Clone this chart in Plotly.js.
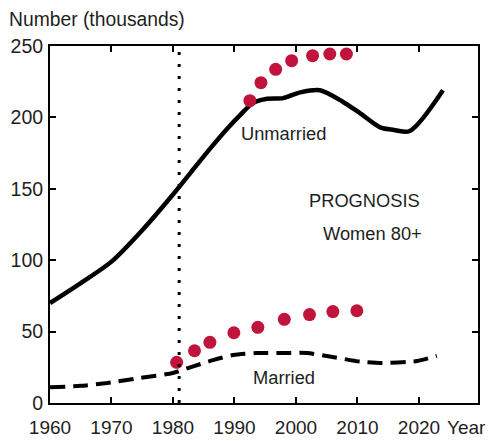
<!DOCTYPE html>
<html>
<head>
<meta charset="utf-8">
<script src="https://cdn.plot.ly/plotly-3.0.1.min.js"></script>
<style>html,body{margin:0;padding:0;background:#fff;}#chart{width:491px;height:441px;}</style>
</head>
<body>
<div id="chart"></div>
<script>
// Unmarried women 80+ (solid line)
var unmarriedYears = [1960, 1965, 1970, 1975, 1980, 1983, 1986, 1989, 1991, 1993, 1995.3, 1997.9, 2000.7, 2003.9, 2007.6, 2010.4, 2013.7, 2015.5, 2018.5, 2023.9];
var unmarriedValues = [70, 84, 99, 121, 146, 162, 178, 193, 202, 210, 213, 213.5, 217.5, 219, 211, 203, 193, 191.5, 190.5, 219];
// Married women 80+ (dashed line)
var marriedYears = [1960, 1965, 1969.3, 1974.6, 1980, 1982.8, 1986.5, 1989.8, 1993.7, 1998, 2001.8, 2005.5, 2010.4, 2014, 2019.7, 2022.9];
var marriedValues = [11, 12, 14, 17.5, 21, 25, 30, 33.6, 35, 35, 35, 32.6, 29, 28, 29.4, 33];
// Prognosis points
var progUnmarriedYears = [1992.5, 1994.3, 1996.7, 1999.3, 2002.7, 2005.5, 2008.2];
var progUnmarriedValues = [211.7, 224.3, 233.7, 239.7, 243.2, 244.4, 244.4];
var progMarriedYears = [1980.6, 1983.5, 1986.0, 1989.9, 1993.8, 1998.1, 2002.2, 2006.0, 2009.9];
var progMarriedValues = [28.5, 36.6, 42.5, 49.2, 53, 58.6, 61.9, 64, 64.6];
// Marker year for the dotted vertical line
var prognosisStartYear = 1981;
// Axis ticks
var xTicks = [1960, 1970, 1980, 1990, 2000, 2010, 2020];
var yTicks = [0, 50, 100, 150, 200, 250];

var txt = '#1e1e1e';
var fontFam = 'Liberation Sans, Arial, sans-serif';

var traces = [
  {x: unmarriedYears, y: unmarriedValues, mode: 'lines', line: {color: '#000', width: 4.5, shape: 'spline', smoothing: 0.8}, hoverinfo: 'skip'},
  {x: marriedYears, y: marriedValues, mode: 'lines', line: {color: '#000', width: 4, dash: '15px,8px', shape: 'spline', smoothing: 0.6}, hoverinfo: 'skip'},
  {x: progUnmarriedYears, y: progUnmarriedValues, mode: 'markers', marker: {color: '#c0143c', size: 13}, hoverinfo: 'skip'},
  {x: progMarriedYears, y: progMarriedValues, mode: 'markers', marker: {color: '#c0143c', size: 13}, hoverinfo: 'skip'}
];

var layout = {
  width: 491, height: 441,
  margin: {l: 50, r: 13, t: 46, b: 38, pad: 0},
  paper_bgcolor: '#fff', plot_bgcolor: '#fff',
  showlegend: false,
  font: {family: fontFam, size: 19, color: txt},
  xaxis: {
    range: [1960, 2029.6], tickvals: xTicks, ticktext: xTicks.map(String),
    ticks: 'inside', ticklen: 6, tickwidth: 2, tickcolor: '#000',
    showline: true, linecolor: '#000', linewidth: 2, mirror: 'ticks',
    showgrid: false, zeroline: false, fixedrange: true,
    ticklabelstandoff: 6,
    tickfont: {family: fontFam, size: 19, color: txt}
  },
  yaxis: {
    range: [0, 250], tickvals: yTicks, ticktext: yTicks.map(String),
    ticks: 'inside', ticklen: 6, tickwidth: 2, tickcolor: '#000',
    showline: true, linecolor: '#000', linewidth: 2, mirror: 'ticks',
    showgrid: false, zeroline: false, fixedrange: true,
    ticklabelstandoff: 1,
    tickfont: {family: fontFam, size: 19.5, color: txt}
  },
  shapes: [
    {type: 'line', xref: 'x', yref: 'paper', x0: prognosisStartYear, x1: prognosisStartYear, y0: 0, y1: 1,
     line: {color: '#000', width: 3, dash: '3px,9px'}}
  ],
  annotations: [
    {text: 'Number (thousands)', xref: 'paper', yref: 'paper', x: -43/428, y: 1 + 27/357, xanchor: 'left', yanchor: 'middle', showarrow: false, font: {size: 19.3, color: txt}},
    {text: 'Year', xref: 'paper', yref: 'paper', x: 1 + 10/428, y: -24/357, xanchor: 'right', yanchor: 'middle', showarrow: false, font: {size: 19, color: txt}},
    {text: 'Unmarried', xref: 'x', yref: 'y', x: 1998, y: 189, xanchor: 'center', yanchor: 'middle', showarrow: false, font: {size: 18.3, color: txt}},
    {text: 'PROGNOSIS', xref: 'x', yref: 'y', x: 2011.1, y: 141.5, xanchor: 'center', yanchor: 'middle', showarrow: false, font: {size: 18.3, color: txt}},
    {text: 'Women 80+', xref: 'x', yref: 'y', x: 2012.5, y: 119, xanchor: 'center', yanchor: 'middle', showarrow: false, font: {size: 18.3, color: txt}},
    {text: 'Married', xref: 'x', yref: 'y', x: 1998.1, y: 18, xanchor: 'center', yanchor: 'middle', showarrow: false, font: {size: 18.3, color: txt}}
  ]
};

Plotly.newPlot('chart', traces, layout, {displayModeBar: false, staticPlot: true});
</script>
</body>
</html>
